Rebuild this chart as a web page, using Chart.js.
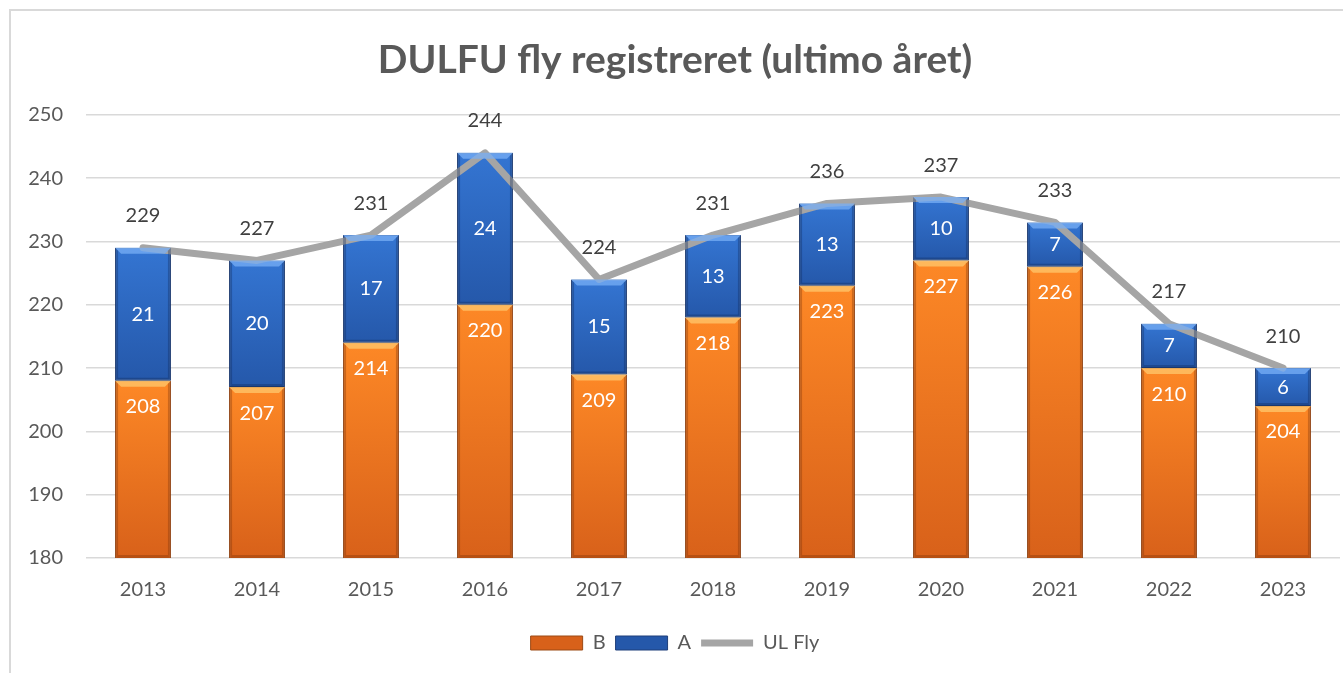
<!DOCTYPE html>
<html>
<head>
<meta charset="utf-8">
<script src="https://cdn.jsdelivr.net/npm/chart.js@4/dist/chart.umd.min.js"></script>
<style>
  body { margin: 0; background: #fff; }
  #frame { position: absolute; left: 9px; top: 9px; width: 1400px; height: 700px; border: 2px solid #d9d9d9; }
  #wrap { position: absolute; left: 0; top: 0; width: 1343px; height: 673px; }
</style>
</head>
<body>
<div id="frame"></div>
<div id="wrap"><canvas id="chart"></canvas></div>
<script>
// data
const years = ['2013', '2014', '2015', '2016', '2017', '2018', '2019', '2020', '2021', '2022', '2023']
const bValues = [208, 207, 214, 220, 209, 218, 223, 227, 226, 210, 204]
const aValues = [21, 20, 17, 24, 15, 13, 13, 10, 7, 7, 6]
const ulFly = [229, 227, 231, 244, 224, 231, 236, 237, 233, 217, 210]
const yTicks = [180, 190, 200, 210, 220, 230, 240, 250]

const FONT = 'Lato, "Open Sans", sans-serif'
const TEXT = '#595959'

function barGradient(ctx, top, bottom, light, dark, fallback) {
    const chart = ctx.chart
    if (!chart.chartArea || ctx.type !== 'data') return fallback
    const y = chart.scales.y
    const yTop = y.getPixelForValue(top)
    const yBot = Math.min(y.getPixelForValue(bottom), chart.chartArea.bottom)
    if (!isFinite(yTop) || !isFinite(yBot) || yBot <= yTop) return fallback
    const g = chart.ctx.createLinearGradient(0, yTop, 0, yBot)
    g.addColorStop(0, light)
    g.addColorStop(1, dark)
    return g
}

// small bevel on every bar, like the office style
const bevelPlugin = {
    id: 'bevel',
    afterDatasetsDraw(chart) {
        const c = chart.ctx
        c.save()
        c.beginPath()
        c.rect(chart.chartArea.left, chart.chartArea.top, chart.chartArea.width, chart.chartArea.height)
        c.clip()
        chart.data.datasets.forEach((ds, di) => {
            if (ds.type !== 'bar') return
            const meta = chart.getDatasetMeta(di)
            meta.data.forEach(bar => {
                const left = bar.x - bar.width / 2
                const right = bar.x + bar.width / 2
                const top = bar.y
                const bottom = Math.min(bar.base, chart.chartArea.bottom)
                const b = 6
                c.fillStyle = ds.bevelLight
                c.beginPath()
                c.moveTo(left, top); c.lineTo(right, top); c.lineTo(right - b, top + b); c.lineTo(left + b, top + b)
                c.closePath(); c.fill()
                c.fillStyle = ds.bevelDark
                c.beginPath()
                c.moveTo(right, top); c.lineTo(right, bottom); c.lineTo(right - 3, bottom - 3); c.lineTo(right - 3, top + 3)
                c.closePath(); c.fill()
                c.beginPath()
                c.moveTo(left, top); c.lineTo(left, bottom); c.lineTo(left + 3, bottom - 3); c.lineTo(left + 3, top + 3)
                c.closePath(); c.fill()
                c.beginPath()
                c.moveTo(left, bottom); c.lineTo(right, bottom); c.lineTo(right - 3, bottom - 3); c.lineTo(left + 3, bottom - 3)
                c.closePath(); c.fill()
            })
        })
        c.restore()
    }
}

const labelPlugin = {
    id: 'valueLabels',
    afterDatasetsDraw(chart) {
        const c = chart.ctx
        c.save()
        c.font = '20px ' + FONT
        c.textAlign = 'center'
        c.textBaseline = 'middle'
        chart.data.datasets.forEach((ds, di) => {
            const meta = chart.getDatasetMeta(di)
            meta.data.forEach((el, i) => {
                const v = ds.data[i]
                if (ds.label === 'B') {
                    c.fillStyle = '#ffffff'
                    c.fillText(v, el.x, el.y + 26)
                } else if (ds.label === 'A') {
                    c.fillStyle = '#ffffff'
                    c.fillText(v, el.x, (el.y + el.base) / 2)
                } else {
                    c.fillStyle = '#404040'
                    c.fillText(v, el.x, el.y - 32)
                }
            })
        })
        c.restore()
    }
}

const data = {
    labels: years,
    datasets: [
        {
            type: 'bar',
            label: 'B',
            data: bValues,
            stack: 'bars',
            order: 1,
            backgroundColor: ctx => barGradient(ctx, bValues[ctx.dataIndex], 180, '#FD8826', '#D8611A', '#F07A1E'),
            borderColor: '#9C4A14',
            borderWidth: 1,
            borderSkipped: false,
            pointStyle: 'rect',
            bevelLight: 'rgba(255, 200, 110, 0.75)',
            bevelDark: 'rgba(120, 50, 10, 0.35)',
            barPercentage: 0.5,
            categoryPercentage: 0.98
        },
        {
            type: 'bar',
            label: 'A',
            data: aValues,
            stack: 'bars',
            order: 1,
            backgroundColor: ctx => barGradient(ctx, bValues[ctx.dataIndex] + aValues[ctx.dataIndex], bValues[ctx.dataIndex], '#3475D2', '#2558AA', '#2E68C2'),
            borderColor: '#1F3F7A',
            borderWidth: 1,
            borderSkipped: false,
            pointStyle: 'rect',
            bevelLight: 'rgba(120, 175, 245, 0.75)',
            bevelDark: 'rgba(15, 40, 90, 0.35)',
            barPercentage: 0.5,
            categoryPercentage: 0.98
        },
        {
            type: 'line',
            label: 'UL Fly',
            data: ulFly,
            stack: 'line',
            order: 0,
            borderColor: '#A5A5A5',
            backgroundColor: '#A5A5A5',
            borderWidth: 7,
            borderCapStyle: 'round',
            borderJoinStyle: 'round',
            pointRadius: 0,
            pointStyle: 'line',
            tension: 0
        }
    ]
}

const config = {
    data: data,
    options: {
        responsive: true,
        maintainAspectRatio: false,
        animation: false,
        layout: { padding: { left: 10, right: 3, top: 10, bottom: 10 } },
        plugins: {
            title: {
                display: true,
                text: 'DULFU fly registreret (ultimo året)',
                color: TEXT,
                font: { family: FONT, size: 39, weight: 'bold' },
                padding: { top: 27, bottom: 31 }
            },
            legend: {
                position: 'bottom',
                labels: {
                    color: TEXT,
                    font: { family: FONT, size: 20 },
                    usePointStyle: true,
                    pointStyleWidth: 52,
                    boxWidth: 52,
                    boxHeight: 14,
                    padding: 10,
                    sort: (a, b) => a.datasetIndex - b.datasetIndex
                }
            },
            tooltip: { enabled: false }
        },
        scales: {
            x: {
                stacked: true,
                grid: { display: false },
                border: { display: false },
                afterFit: scale => { scale.height += 9 },
                ticks: { color: TEXT, font: { family: FONT, size: 20 }, padding: 12 }
            },
            y: {
                stacked: true,
                min: 180,
                max: 250,
                afterBuildTicks: scale => { scale.ticks = yTicks.map(v => ({ value: v })) },
                afterFit: scale => { scale.width = 76 },
                grid: { color: '#D9D9D9', lineWidth: 1.5, drawTicks: false },
                border: { display: false },
                ticks: { color: TEXT, font: { family: FONT, size: 20 }, padding: 23 }
            }
        }
    },
    plugins: [bevelPlugin, labelPlugin]
}

let ctx = document.getElementById('chart').getContext('2d')
new Chart(ctx, config)
</script>
</body>
</html>
